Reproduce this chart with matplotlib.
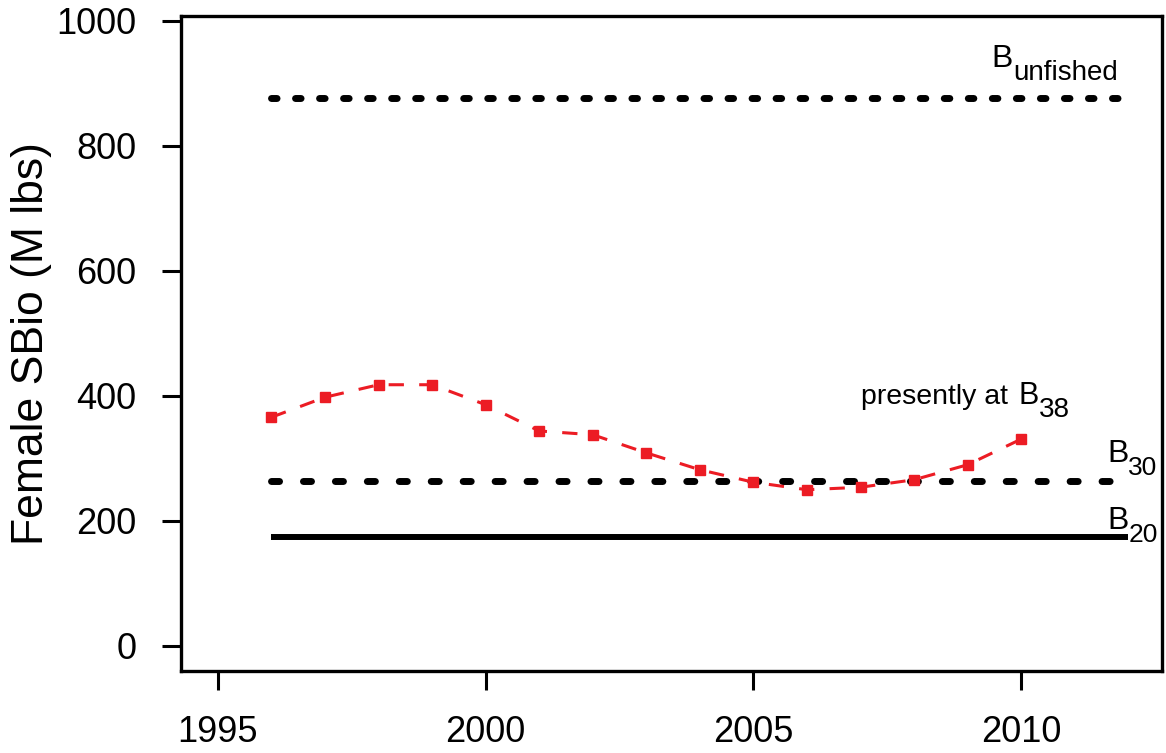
import numpy as np
import matplotlib
matplotlib.use("Agg")
import matplotlib.pyplot as plt

plt.rcParams['font.family'] = ['Liberation Sans', 'DejaVu Sans']

# datos
years = [1996, 1997, 1998, 1999, 2000, 2001, 2002, 2003, 2004, 2005,
         2006, 2007, 2008, 2009, 2010]
sbio = [366, 398, 418, 418, 386, 344, 338, 309, 282, 262,
        250, 254, 266, 290, 331]

ref_years = [1996, 2012]
b_unfished = 877
b30 = 264
b20 = 174

xticks = [1995, 2000, 2005, 2010]
yticks = [0, 200, 400, 600, 800, 1000]

fig = plt.figure(figsize=(11.66, 7.53), dpi=100)
ax = fig.add_axes([0.1552, 0.1089, 0.8414, 0.8699])


# "B" con subindice grande, como en el grafico original
def b_label(x, y, sub, size=23, subsize=20):
    ax.text(x, y, 'B', fontsize=size, ha='left', va='baseline')
    ax.annotate(sub, (x, y), xytext=(0.667 * size, -9),
                textcoords='offset points', fontsize=subsize,
                ha='left', va='baseline')


# lineas de referencia
ax.plot(ref_years, [b_unfished] * 2, color='black', lw=5,
        dashes=(0.8, 2.66), dash_capstyle='round')
ax.plot(ref_years, [b30] * 2, color='black', lw=5,
        dashes=(1.16, 3.44), dash_capstyle='round')
ax.plot(ref_years, [b20] * 2, color='black', lw=4.3, solid_capstyle='butt')

# serie de biomasa
red = '#EC1C24'
ax.plot(years, sbio, color=red, lw=2.2, dashes=(5, 5))
ax.plot(years, sbio, ls='none', marker='s', ms=7, color=red, mec=red)

# etiquetas
b_label(2009.45, 926, 'unfished')
b_label(2011.6, 294, '30', subsize=19)
b_label(2011.6, 187, '20', subsize=19)
ax.text(2009.75, 387, 'presently at', fontsize=20.5, ha='right', va='baseline')
b_label(2009.95, 387, '38', size=22, subsize=20)

ax.set_xlim(1994.31, 2012.63)
ax.set_ylim(-40, 1008)
ax.set_xticks(xticks)
ax.set_yticks(yticks)
ax.tick_params(axis='both', labelsize=26, length=14, width=2.2, pad=18)
ax.set_ylabel('Female SBio (M lbs)', fontsize=32, labelpad=3)
for s in ax.spines.values():
    s.set_linewidth(2.4)

fig.savefig('out.png', dpi=100)
